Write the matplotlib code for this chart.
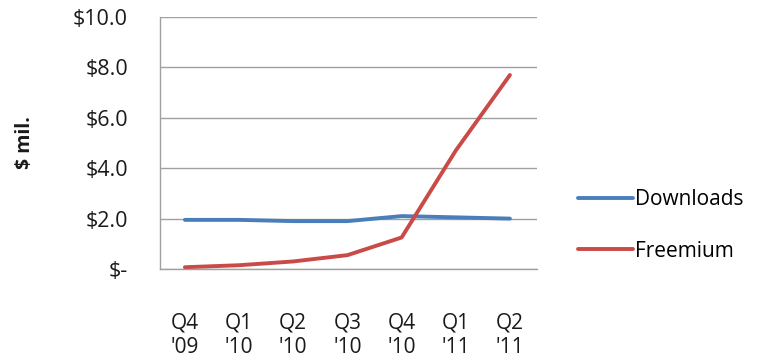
import matplotlib
matplotlib.use("Agg")
import matplotlib.pyplot as plt

plt.rcParams["font.family"] = ["Open Sans", "DejaVu Sans"]

# ---- data -----------------------------------------------------------------
quarters = ["Q4\n'09", "Q1\n'10", "Q2\n'10", "Q3\n'10", "Q4\n'10", "Q1\n'11", "Q2\n'11"]
downloads = [1.95, 1.95, 1.9, 1.9, 2.1, 2.05, 2.0]
freemium = [0.07, 0.15, 0.3, 0.55, 1.25, 4.7, 7.7]
y_ticks = [0, 2, 4, 6, 8, 10]
y_labels = ["$-", "$2.0", "$4.0", "$6.0", "$8.0", "$10.0"]

BLUE = "#4A7EBB"
RED = "#C94A47"
GRID = "#A0A0A0"
INK = "#1a1a1a"

fig = plt.figure(figsize=(7.64, 3.62), dpi=100)
ax = fig.add_axes([0.2094, 0.2569, 0.4935, 0.696])

x = list(range(len(quarters)))
ax.plot(x, downloads, color=BLUE, lw=2.8, label="Downloads", solid_capstyle="round")
ax.plot(x, freemium, color=RED, lw=2.8, label="Freemium", solid_capstyle="round")

ax.set_xlim(-0.46, 6.5)
ax.set_ylim(0, 10)
ax.set_yticks(y_ticks)
ax.set_yticklabels(y_labels)
ax.set_xticks(x)
ax.set_xticklabels(quarters, linespacing=1.25)

ax.yaxis.grid(True, color=GRID, lw=1.0)
ax.set_axisbelow(True)
for s in ["top", "right"]:
    ax.spines[s].set_visible(False)
for s in ["left", "bottom"]:
    ax.spines[s].set_color(GRID)
    ax.spines[s].set_linewidth(1.0)

ax.tick_params(axis="y", length=0, pad=23, labelsize=15.5, labelcolor=INK)
ax.tick_params(axis="x", length=0, pad=31, labelsize=15, labelcolor=INK)

fig.text(0.033, 0.605, "$ mil.", rotation=90, ha="center", va="center",
         fontsize=14, weight="bold", color=INK)

fig.legend(loc="center left", bbox_to_anchor=(0.757, 0.377), frameon=False,
           fontsize=15, handlelength=2.6, handletextpad=0.1, labelspacing=1.45,
           borderpad=0, borderaxespad=0)

fig.savefig("out.png", dpi=100, facecolor="white")
